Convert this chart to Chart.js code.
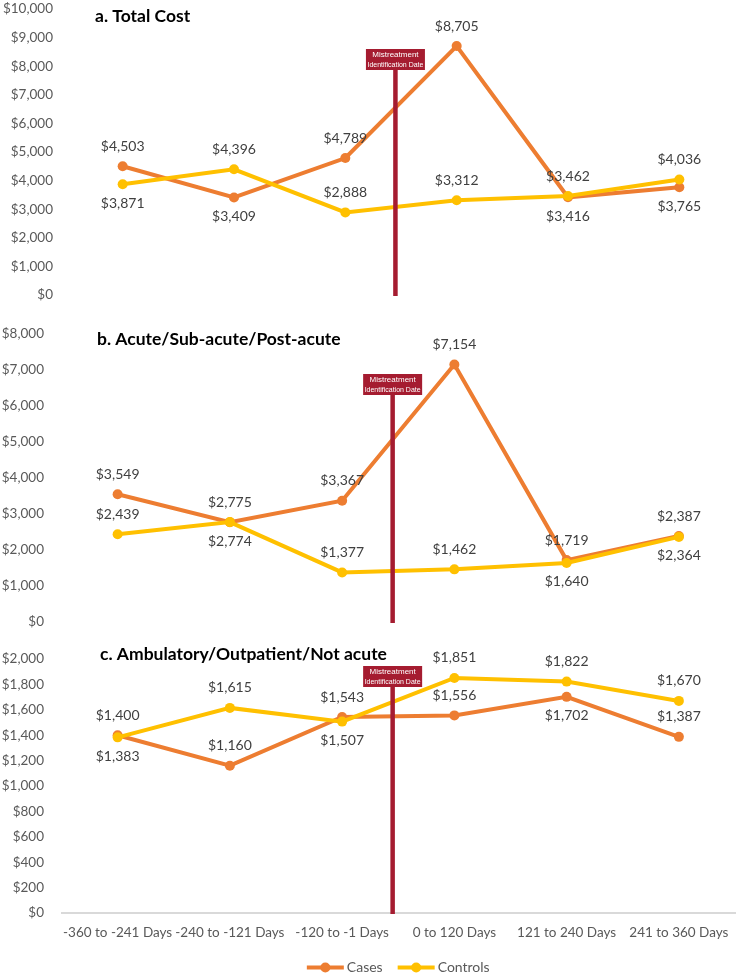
<!DOCTYPE html>
<html><head><meta charset="utf-8">
<script src="https://cdn.jsdelivr.net/npm/chart.js@4/dist/chart.umd.min.js"></script>
<style>
html,body{margin:0;padding:0;background:#fff;}
#wrap{position:relative;width:740px;height:975px;overflow:hidden;}
.panel{position:absolute;left:0;width:740px;}
canvas{display:block;}
</style></head><body>
<div id="wrap">
<div class="panel" style="top:0;height:305px"><canvas id="ca" width="740" height="305"></canvas></div>
<div class="panel" style="top:315px;height:315px"><canvas id="cb" width="740" height="315"></canvas></div>
<div class="panel" style="top:640px;height:335px"><canvas id="cc" width="740" height="335"></canvas></div>
</div>
<script>
// ---------- data ----------
const categories = ['-360 to -241 Days','-240 to -121 Days','-120 to -1 Days','0 to 120 Days','121 to 240 Days','241 to 360 Days'];
const seriesNames = ['Cases','Controls'];
const totalCases    = [4503, 3409, 4789, 8705, 3416, 3765];
const totalControls = [3871, 4396, 2888, 3312, 3462, 4036];
const acuteCases    = [3549, 2774, 3367, 7154, 1719, 2387];
const acuteControls = [2439, 2775, 1377, 1462, 1640, 2364];
const ambCases      = [1400, 1160, 1543, 1556, 1702, 1387];
const ambControls   = [1383, 1615, 1507, 1851, 1822, 1670];
const panelTitles = ['a. Total Cost','b. Acute/Sub-acute/Post-acute','c. Ambulatory/Outpatient/Not acute'];
const markerText = ['Mistreatment','Identification Date'];

// ---------- style ----------
const FONT = 'Lato, "Open Sans", sans-serif';
const C_CASES = '#ED7D31', C_CTRL = '#FFC000', C_MARK = '#A51C30';
const C_TICK = '#595959', C_LABEL = '#404040';
function fmt(v){ return '$' + Number(v).toLocaleString('en-US'); }

function makePanel(canvasId, o){
  const overlay = {
    id: 'overlay_' + canvasId,
    afterDatasetsDraw(chart){
      const {ctx, chartArea} = chart;
      const x = chart.scales.x, y = chart.scales.y;
      ctx.save();
      // marker line + box
      const step = x.getPixelForValue(3) - x.getPixelForValue(2);
      const mx = x.getPixelForValue(2) + step * 0.45;
      const bt = chartArea.top + o.boxTop, bh = 21, bw = 59;
      ctx.fillStyle = C_MARK;
      ctx.fillRect(mx - 2.25, bt + bh, 4.5, chartArea.bottom - bt - bh + 1);
      ctx.fillRect(mx - bw/2, bt, bw, bh);
      ctx.fillStyle = '#fff';
      ctx.font = '8px "Liberation Sans Narrow", "Liberation Sans", sans-serif';
      ctx.textAlign = 'center'; ctx.textBaseline = 'middle';
      ctx.fillText(markerText[0], mx, bt + 6, 50);
      ctx.fillText(markerText[1], mx, bt + 15.5, 56);
      // data labels
      ctx.font = '14px ' + FONT;
      ctx.fillStyle = C_LABEL;
      chart.data.datasets.forEach((ds, di) => {
        const meta = chart.getDatasetMeta(di);
        const pos = o.labelPos[di];
        meta.data.forEach((pt, i) => {
          const dy = pos[i] === 'a' ? -20 : 19;
          ctx.fillText(fmt(ds.data[i]), pt.x, pt.y + dy);
        });
      });
      // title
      ctx.fillStyle = '#000';
      ctx.font = 'bold 17.5px ' + FONT;
      ctx.textAlign = 'left';
      ctx.fillText(o.title, o.titleX, o.titleY);
      // legend
      if (o.legend){
        ctx.font = '14px ' + FONT;
        const cols = [C_CASES, C_CTRL];
        const w = seriesNames.map(s => ctx.measureText(s).width);
        const total = 37 + 3 + w[0] + 15 + 37 + 3 + w[1];
        let lx = (chartArea.left + chartArea.right)/2 - total/2;
        const ly = o.legendY;
        seriesNames.forEach((s, k) => {
          ctx.strokeStyle = cols[k]; ctx.lineWidth = 4;
          ctx.beginPath(); ctx.moveTo(lx, ly); ctx.lineTo(lx + 37, ly); ctx.stroke();
          ctx.fillStyle = cols[k];
          ctx.beginPath(); ctx.arc(lx + 18.5, ly, 5, 0, Math.PI*2); ctx.fill();
          ctx.fillStyle = C_TICK; ctx.textAlign = 'left';
          ctx.fillText(s, lx + 40, ly);
          lx += 37 + 3 + w[k] + 15;
        });
      }
      ctx.restore();
    }
  };
  const xAxis = o.showX ? {
    type: 'category', offset: true,
    ticks: {color: C_TICK, font: {family: FONT, size: 13.5}, padding: 12, maxRotation: 0, autoSkip: false},
    grid: {display: false, drawTicks: false},
    border: {display: true, color: '#D9D9D9', width: 2},
    afterFit(s){ s.height = 30; s.paddingLeft = 0; s.paddingRight = 0; }
  } : { type: 'category', offset: true, display: false };
  return new Chart(document.getElementById(canvasId), {
    type: 'line',
    data: {
      labels: categories,
      datasets: [
        {label: seriesNames[0], data: o.cases, borderColor: C_CASES, backgroundColor: C_CASES,
         pointBackgroundColor: C_CASES, borderWidth: 4, pointRadius: 5, pointBorderWidth: 0, tension: 0, order: 1},
        {label: seriesNames[1], data: o.controls, borderColor: C_CTRL, backgroundColor: C_CTRL,
         pointBackgroundColor: C_CTRL, borderWidth: 4, pointRadius: 5, pointBorderWidth: 0, tension: 0, order: 0}
      ]
    },
    options: {
      responsive: false, animation: false,
      layout: {padding: o.pad},
      plugins: {legend: {display: false}, tooltip: {enabled: false}},
      scales: {
        x: xAxis,
        y: {
          min: 0, max: o.max,
          ticks: {stepSize: o.step, color: C_TICK, font: {family: FONT, size: 13.5}, padding: o.tickPad, callback: v => fmt(v)},
          grid: {display: false, drawTicks: false},
          border: {display: false},
          afterFit(s){ s.width = o.yWidth; s.paddingTop = 0; s.paddingBottom = 0; }
        }
      }
    },
    plugins: [overlay]
  });
}

makePanel('ca', {
  cases: totalCases, controls: totalControls, max: 10000, step: 1000,
  pad: {top: 9, right: 2, bottom: 10, left: 0}, yWidth: 67, tickPad: 14,
  boxTop: 40, title: panelTitles[0], titleX: 95, titleY: 16,
  labelPos: [['a','b','a','a','b','b'], ['b','a','a','a','a','a']]
});
makePanel('cb', {
  cases: acuteCases, controls: acuteControls, max: 8000, step: 1000,
  pad: {top: 19, right: 4, bottom: 8, left: 0}, yWidth: 61.5, tickPad: 17.5,
  boxTop: 40, title: panelTitles[1], titleX: 97, titleY: 24,
  labelPos: [['a','b','a','a','a','a'], ['a','a','a','a','b','b']]
});
makePanel('cc', {
  cases: ambCases, controls: ambControls, max: 2000, step: 200,
  pad: {top: 19, right: 2, bottom: 32, left: 0}, yWidth: 61.5, tickPad: 17.5,
  boxTop: 7, title: panelTitles[2], titleX: 100, titleY: 14,
  showX: true, legend: true, legendY: 327.5,
  labelPos: [['a','a','a','a','b','a'], ['b','a','b','a','a','a']]
});
</script>
</body></html>
